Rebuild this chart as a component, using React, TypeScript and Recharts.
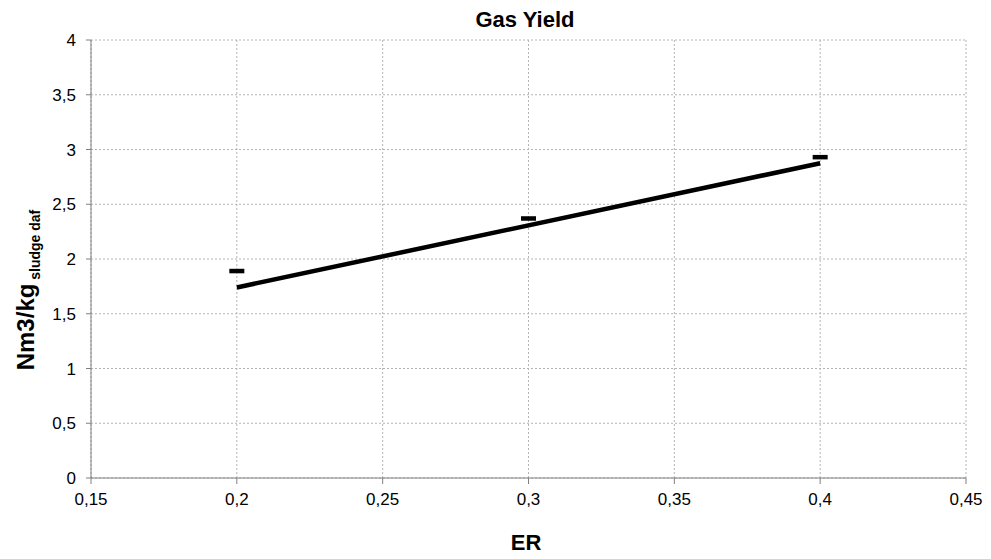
import {
    ComposedChart,
    Line,
    Scatter,
    XAxis,
    YAxis,
    CartesianGrid,
} from "recharts";

// Measured gas yield per equivalence ratio
const ER_VALUES = [0.2, 0.3, 0.4];
const GAS_YIELD = [1.89, 2.37, 2.93];

// Linear trend line end points
const TREND_ER = [0.2, 0.4];
const TREND_YIELD = [1.74, 2.875];

const X_TICKS = [0.15, 0.2, 0.25, 0.3, 0.35, 0.4, 0.45];
const Y_TICKS = [0, 0.5, 1, 1.5, 2, 2.5, 3, 3.5, 4];

const measured = ER_VALUES.map((er, i) => ({ er, y: GAS_YIELD[i] }));
const trend = TREND_ER.map((er, i) => ({ er, y: TREND_YIELD[i] }));

const FONT = "'Liberation Sans', Arial, sans-serif";
const fmt = (v: number) => String(v).replace(".", ",");

// short horizontal bar used as the point marker
const DashMarker = (props: any) => {
    const { cx, cy } = props;
    return <rect x={cx - 7.5} y={cy - 2.25} width={15} height={4.5} fill="#000" />;
};

const XTick = (props: any) => (
    <text x={props.x} y={props.y} dy="0.71em" textAnchor="middle" fontFamily={FONT} fontSize={17} fill="#000">
        {fmt(props.payload.value)}
    </text>
);

const YTick = (props: any) => (
    <text x={props.x} y={props.y} dy="0.355em" textAnchor="end" fontFamily={FONT} fontSize={17} fill="#000">
        {fmt(props.payload.value)}
    </text>
);

const YLabel = () => (
    <text
        transform="translate(34, 290) rotate(-90)"
        textAnchor="middle"
        fontFamily={FONT}
        fontWeight="bold"
        fill="#000"
    >
        <tspan fontSize={24}>Nm3/kg</tspan>
        <tspan fontSize={14} dy={6}> sludge daf</tspan>
    </text>
);

export default function App() {
    return (
        <div style={{ position: "absolute", left: 0, top: 0, width: 991, height: 559, background: "#fff" }}>
            <ComposedChart
                width={991}
                height={559}
                margin={{ top: 40, right: 25, bottom: 0, left: 0 }}
            >
                <CartesianGrid stroke="#b4b4b4" strokeDasharray="2 2" />
                <XAxis
                    type="number"
                    dataKey="er"
                    domain={[0.15, 0.45]}
                    ticks={X_TICKS}
                    height={81}
                    stroke="#808080"
                    tickSize={6}
                    tickMargin={9}
                    tick={<XTick />}
                    allowDataOverflow
                />
                <YAxis
                    type="number"
                    domain={[0, 4]}
                    ticks={Y_TICKS}
                    width={91}
                    stroke="#808080"
                    tickSize={5}
                    tickMargin={10}
                    tick={<YTick />}
                    label={{ content: () => <YLabel /> }}
                />
                <Line
                    data={trend}
                    dataKey="y"
                    type="linear"
                    stroke="#000"
                    strokeWidth={4.5}
                    dot={false}
                    isAnimationActive={false}
                />
                <Scatter
                    data={measured}
                    dataKey="y"
                    shape={DashMarker}
                    isAnimationActive={false}
                />
            </ComposedChart>
            <svg
                width={991}
                height={559}
                style={{ position: "absolute", left: 0, top: 0, pointerEvents: "none" }}
            >
                <text x={525} y={27} textAnchor="middle" fontFamily={FONT} fontWeight="bold" fontSize={22} fill="#000">
                    Gas Yield
                </text>
                <text x={526} y={550} textAnchor="middle" fontFamily={FONT} fontWeight="bold" fontSize={22} fill="#000">
                    ER
                </text>
            </svg>
        </div>
    );
}
